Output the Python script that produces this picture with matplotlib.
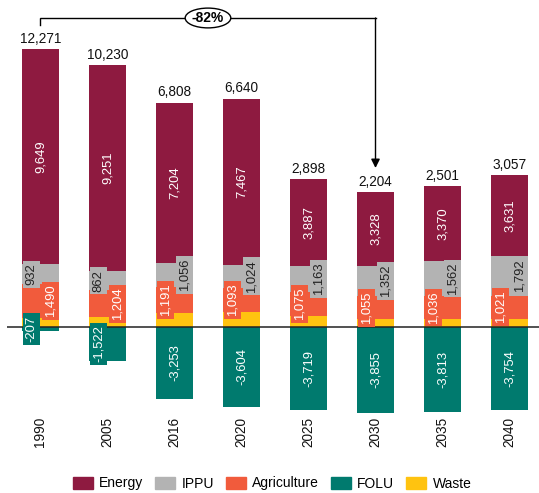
import matplotlib
matplotlib.use("Agg")
import matplotlib.pyplot as plt
from matplotlib.patches import Patch

# ---- data ----
years = ["1990", "2005", "2016", "2020", "2025", "2030", "2035", "2040"]
energy = [9649, 9251, 7204, 7467, 3887, 3328, 3370, 3631]
ippu = [932, 862, 1056, 1024, 1163, 1352, 1562, 1792]
agriculture = [1490, 1204, 1191, 1093, 1075, 1055, 1036, 1021]
folu = [-207, -1522, -3253, -3604, -3719, -3855, -3813, -3754]
waste = [407, 435, 610, 660, 492, 324, 346, 367]
totals = [12271, 10230, 6808, 6640, 2898, 2204, 2501, 3057]
change_label = "-82%"
change_from, change_to = 0, 5

# ---- style / layout ----
plt.rcParams['font.family'] = ['Liberation Sans', 'DejaVu Sans']
c_energy = "#8E1A40"
c_ippu = "#B3B3B3"
c_agri = "#F15B3C"
c_folu = "#007A6E"
c_waste = "#FFC310"

ippu_side = ['L', 'L', 'R', 'R', 'R', 'R', 'R', 'R']
agri_side = ['R', 'R', 'L', 'L', 'L', 'L', 'L', 'L']
folu_side = ['L', 'L', 'C', 'C', 'C', 'C', 'C', 'C']
offs = {'L': -0.134, 'R': 0.149, 'C': 0.0}

fig = plt.figure(figsize=(5.39, 4.93), dpi=100)
ax = fig.add_axes([0, 0, 1, 1])
ax.axis('off')
ax.set_xlim(-0.604, 7.44)
ax.set_ylim(-7467, 14669)

x = list(range(len(years)))
w = 0.552

b0 = [0] * len(x)
ax.bar(x, waste, w, bottom=b0, color=c_waste, zorder=2)
b1 = waste
ax.bar(x, agriculture, w, bottom=b1, color=c_agri, zorder=2)
b2 = [a + b for a, b in zip(b1, agriculture)]
ax.bar(x, ippu, w, bottom=b2, color=c_ippu, zorder=2)
b3 = [a + b for a, b in zip(b2, ippu)]
ax.bar(x, energy, w, bottom=b3, color=c_energy, zorder=2)
tops = [a + b for a, b in zip(b3, energy)]
ax.bar(x, folu, w, bottom=0, color=c_folu, zorder=2)

# zero line
ax.plot([-0.5, 7.6], [0, 0], color='#222222', lw=1.1, zorder=3, solid_capstyle='butt')

fs = 9.4
bp = 'square,pad=0.2'
for i in x:
    # energy
    ax.text(i, b3[i] + energy[i] / 2, f"{energy[i]:,}", rotation=90, ha='center', va='center',
            color='white', fontsize=fs, zorder=5)
    # ippu
    ax.text(i + offs[ippu_side[i]], b2[i] + ippu[i] / 2, f"{ippu[i]:,}", rotation=90,
            ha='center', va='center', color='#222222', fontsize=fs, zorder=5,
            bbox=dict(boxstyle=bp, fc=c_ippu, ec='none'))
    # agriculture
    ax.text(i + offs[agri_side[i]], b1[i] + agriculture[i] / 2, f"{agriculture[i]:,}", rotation=90,
            ha='center', va='center', color='white', fontsize=fs, zorder=5,
            bbox=dict(boxstyle=bp, fc=c_agri, ec='none'))
    # folu
    ax.text(i + offs[folu_side[i]], folu[i] / 2, f"{folu[i]:,}", rotation=90,
            ha='center', va='center', color='white', fontsize=fs, zorder=5,
            bbox=dict(boxstyle=bp, fc=c_folu, ec='none'))
    # total
    ax.annotate(f"{totals[i]:,}", (i, tops[i]), xytext=(0, 4.5), textcoords='offset points',
                ha='center', va='baseline', fontsize=9.8, color='#111111', zorder=5)
    # year
    ax.text(i, -4731, years[i], rotation=90, ha='center', va='center', fontsize=9.8,
            color='#111111')

# bracket with arrow
yb = 13861
ax.plot([change_from, change_from, change_to], [13546, yb, yb], color='black', lw=1.0,
        zorder=4, solid_joinstyle='miter')
ax.annotate('', xy=(change_to, 7126), xytext=(change_to, yb),
            arrowprops=dict(arrowstyle='-|>', color='black', lw=1.0, mutation_scale=13,
                            shrinkA=0, shrinkB=0), zorder=4)
ax.text((change_from + change_to) / 2, yb, change_label, ha='center', va='center',
        fontsize=10, fontweight='bold', zorder=6,
        bbox=dict(boxstyle='ellipse,pad=0.0', fc='white', ec='black', lw=1.0))

handles = [Patch(color=c_energy, label='Energy'), Patch(color=c_ippu, label='IPPU'),
           Patch(color=c_agri, label='Agriculture'), Patch(color=c_folu, label='FOLU'),
           Patch(color=c_waste, label='Waste')]
fig.legend(handles=handles, loc='center', bbox_to_anchor=(272 / 539, 9.5 / 493), ncol=5,
           frameon=False, fontsize=10, handlelength=1.45, handleheight=1.0,
           handletextpad=0.45, columnspacing=0.85, borderpad=0, borderaxespad=0)

fig.savefig('out.png', dpi=100)
